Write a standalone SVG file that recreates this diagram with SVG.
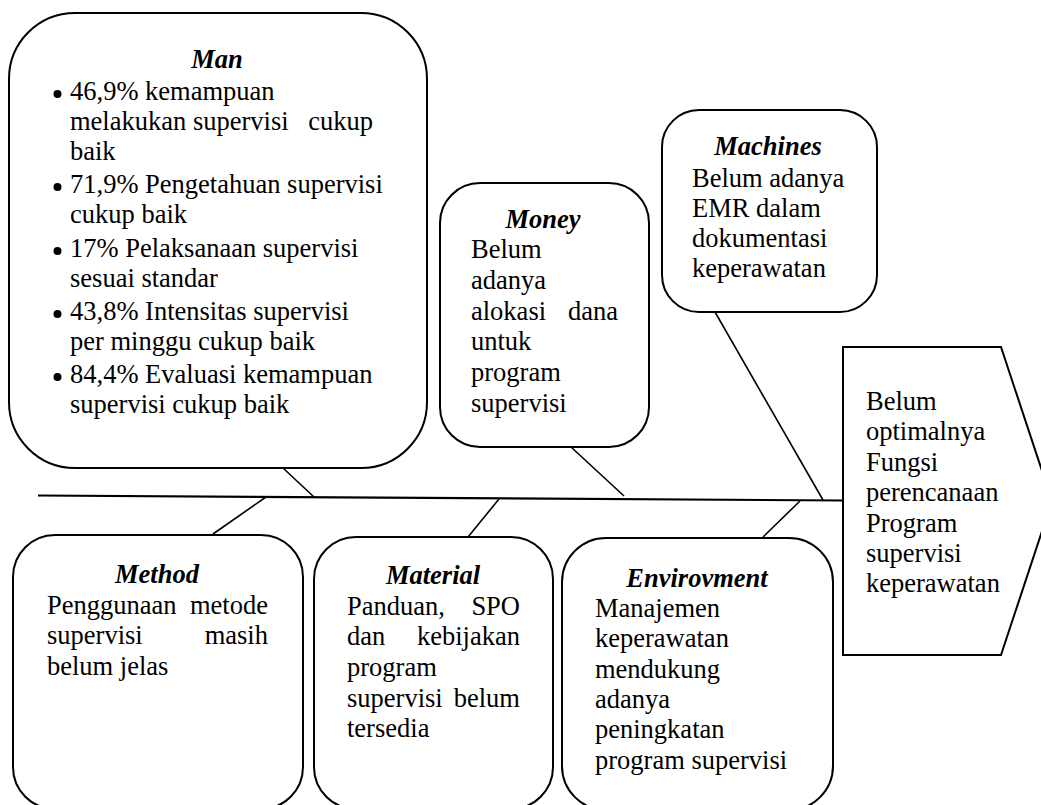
<svg xmlns="http://www.w3.org/2000/svg" width="1041" height="805" viewBox="0 0 1041 805">
<style>
.box{fill:#fff;stroke:#000;stroke-width:2}
.ln{fill:none;stroke:#000;stroke-width:1.6}
.spine{fill:none;stroke:#000;stroke-width:2.2}
.bul{fill:#000}
text{font-family:"Liberation Serif","Times New Roman",serif;font-size:26.5px;fill:#000}
.t{font-weight:bold;font-style:italic;text-anchor:middle}
</style>
<rect width="1041" height="805" fill="#fff"/>
<g id="connectors">
<line class="spine" x1="38" y1="495.5" x2="843" y2="500.5"/>
<line class="ln" x1="283" y1="468" x2="314" y2="497"/>
<line class="ln" x1="571" y1="447" x2="624" y2="496"/>
<line class="ln" x1="715" y1="312" x2="823" y2="500"/>
<line class="ln" x1="213" y1="534" x2="266" y2="497"/>
<line class="ln" x1="468" y1="537" x2="499" y2="499"/>
<line class="ln" x1="763" y1="537" x2="800" y2="501"/>
</g>
<g id="man">
<rect class="box" x="9" y="13" width="418" height="455" rx="66" ry="66"/>
<text class="t" x="217" y="68">Man</text>
<circle class="bul" cx="57.5" cy="94" r="4"/><text x="70" y="100">46,9% kemampuan</text>
<text x="70" y="130">melakukan supervisi</text><text x="373" y="130" text-anchor="end">cukup</text>
<text x="70" y="160">baik</text>
<circle class="bul" cx="57.5" cy="187" r="4"/><text x="70" y="193">71,9% Pengetahuan supervisi</text>
<text x="70" y="223">cukup baik</text>
<circle class="bul" cx="57.5" cy="251" r="4"/><text x="70" y="257">17% Pelaksanaan supervisi</text>
<text x="70" y="287">sesuai standar</text>
<circle class="bul" cx="57.5" cy="314" r="4"/><text x="70" y="320">43,8% Intensitas supervisi</text>
<text x="70" y="350">per minggu cukup baik</text>
<circle class="bul" cx="57.5" cy="377" r="4"/><text x="70" y="383">84,4% Evaluasi kemampuan</text>
<text x="70" y="413">supervisi cukup baik</text>
</g>
<g id="money">
<rect class="box" x="440" y="183" width="209" height="264" rx="40" ry="40"/>
<text class="t" x="543" y="228">Money</text>
<text x="471" y="258">Belum</text>
<text x="471" y="289">adanya</text>
<text x="471" y="320">alokasi</text><text x="618" y="320" text-anchor="end">dana</text>
<text x="471" y="350">untuk</text>
<text x="471" y="381">program</text>
<text x="471" y="412">supervisi</text>
</g>
<g id="machines">
<rect class="box" x="662" y="110" width="215" height="202" rx="37" ry="37"/>
<text class="t" x="768" y="155">Machines</text>
<text x="692" y="187">Belum adanya</text>
<text x="692" y="217">EMR dalam</text>
<text x="692" y="247">dokumentasi</text>
<text x="692" y="277">keperawatan</text>
</g>
<g id="effect">
<polygon class="box" points="843,347 1001,347 1052,501 1001,655 843,655"/>
<text x="866" y="410">Belum</text>
<text x="866" y="440">optimalnya</text>
<text x="866" y="471">Fungsi</text>
<text x="866" y="501">perencanaan</text>
<text x="866" y="532">Program</text>
<text x="866" y="562">supervisi</text>
<text x="866" y="592">keperawatan</text>
</g>
<g id="method">
<rect class="box" x="13" y="535" width="290" height="274" rx="42" ry="42"/>
<text class="t" x="157" y="583">Method</text>
<text x="47" y="614">Penggunaan</text><text x="268" y="614" text-anchor="end">metode</text>
<text x="47" y="644">supervisi</text><text x="268" y="644" text-anchor="end">masih</text>
<text x="47" y="675">belum jelas</text>
</g>
<g id="material">
<rect class="box" x="314" y="537" width="239" height="272" rx="42" ry="42"/>
<text class="t" x="433" y="584">Material</text>
<text x="347" y="615">Panduan,</text><text x="520" y="615" text-anchor="end">SPO</text>
<text x="347" y="645">dan</text><text x="520" y="645" text-anchor="end">kebijakan</text>
<text x="347" y="676">program</text>
<text x="347" y="707">supervisi</text><text x="520" y="707" text-anchor="end">belum</text>
<text x="347" y="737">tersedia</text>
</g>
<g id="environment">
<rect class="box" x="562" y="538" width="271" height="272" rx="44" ry="44"/>
<text class="t" x="697" y="587">Envirovment</text>
<text x="595" y="617">Manajemen</text>
<text x="595" y="647">keperawatan</text>
<text x="595" y="678">mendukung</text>
<text x="595" y="708">adanya</text>
<text x="595" y="738">peningkatan</text>
<text x="595" y="769">program supervisi</text>
</g>
</svg>
